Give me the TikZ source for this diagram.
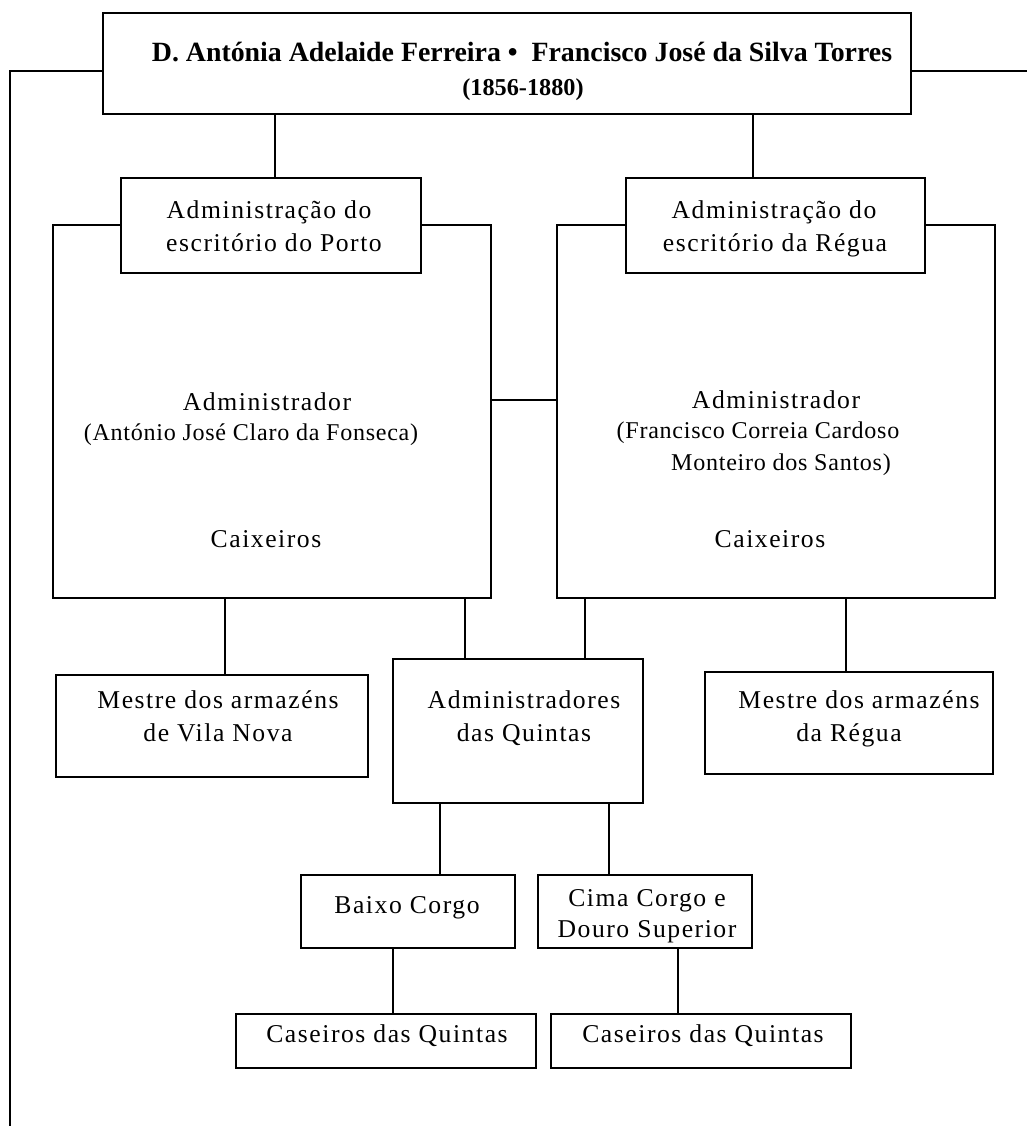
\documentclass[tikz,border=0pt]{standalone}
\usepackage{fontspec}
\setmainfont{Liberation Serif}
\newfontfamily\spacedserif[LetterSpace=6]{Liberation Serif}
\newfontfamily\lightspaced[LetterSpace=3]{Liberation Serif}
\usetikzlibrary{fit}
\begin{document}
\begin{tikzpicture}[x=0.02cm,y=-0.02cm,
  box/.style={draw, line width=1.6pt, fill=white, inner sep=0pt},
  link/.style={line width=1.6pt},
  txt/.style={anchor=base, inner sep=0pt, font=\spacedserif\fontsize{14.6pt}{18pt}\selectfont},
  sub/.style={anchor=base, inner sep=0pt, font=\lightspaced\fontsize{13.7pt}{17pt}\selectfont},
  ttl/.style={anchor=base, inner sep=0pt, font=\bfseries\fontsize{15.85pt}{18pt}\selectfont},
  dte/.style={anchor=base, inner sep=0pt, font=\bfseries\fontsize{13.8pt}{16pt}\selectfont}]
\useasboundingbox (0,0) rectangle (1027,1126);

% owners
\node[box, fit={(103,13) (911,114)}] (top) {};
\node[ttl] (ttlA) at (522,61) {D. Antónia Adelaide Ferreira •\ \ Francisco José da Silva Torres};
\node[dte] (ttlB) at (523,95) {(1856-1880)};

% offices: large frames first, heading boxes on top
\node[box, fit={(53,225) (491,598)}] (pbig) {};
\node[box, fit={(557,225) (995,598)}] (rbig) {};
\node[box, fit={(121,178) (421,273)}] (padm) {};
\node[box, fit={(626,178) (925,273)}] (radm) {};

\node[txt] (padmA) at (269,218) {Administração do};
\node[txt] (padmB) at (274,251) {escritório do Porto};
\node[txt] (radmA) at (774,218) {Administração do};
\node[txt] (radmB) at (775,251) {escritório da Régua};

\node[txt] (pAd) at (267,410) {Administrador};
\node[sub] (pAdN) at (251,440) {(António José Claro da Fonseca)};
\node[txt] (pCx) at (266,547) {Caixeiros};

\node[txt] (rAd) at (776,408) {Administrador};
\node[sub] (rAdN) at (758,438) {(Francisco Correia Cardoso};
\node[sub] (rAdM) at (781,470) {Monteiro dos Santos)};
\node[txt] (rCx) at (770,547) {Caixeiros};

% second level
\node[box, fit={(56,675) (368,777)}] (mvn) {};
\node[box, fit={(393,659) (643,803)}] (aq) {};
\node[box, fit={(705,672) (993,774)}] (mr) {};
\node[txt] (mvnA) at (218,708) {Mestre dos armazéns};
\node[txt] (mvnB) at (218,741) {de Vila Nova};
\node[txt] (aqA) at (524,708) {Administradores};
\node[txt] (aqB) at (524,741) {das Quintas};
\node[txt] (mrA) at (859,708) {Mestre dos armazéns};
\node[txt] (mrB) at (849,741) {da Régua};

% regions
\node[box, fit={(301,875) (515,948)}] (bc) {};
\node[box, fit={(538,875) (752,948)}] (cc) {};
\node[txt] (bcA) at (407,913) {Baixo Corgo};
\node[txt] (ccA) at (647,906) {Cima Corgo e};
\node[txt] (ccB) at (647,937) {Douro Superior};

% caretakers
\node[box, fit={(236,1014) (536,1068)}] (cas1) {};
\node[box, fit={(551,1014) (851,1068)}] (cas2) {};
\node[txt] (cas1A) at (387,1042) {Caseiros das Quintas};
\node[txt] (cas2A) at (703,1042) {Caseiros das Quintas};

% connectors
\coordinate (lfoot) at (10,1126);
\coordinate (rend) at (1027,71);
\draw[link] (top.west |- rend) -| (lfoot);
\draw[link] (top.east |- rend) -- (rend);
\draw[link] (top.south -| 275,0) -- (padm.north -| 275,0);
\draw[link] (top.south -| 753,0) -- (radm.north -| 753,0);
\draw[link] (pbig.east |- 0,400) -- (rbig.west |- 0,400);
\draw[link] (pbig.south -| 225,0) -- (mvn.north -| 225,0);
\draw[link] (pbig.south -| 465,0) -- (aq.north -| 465,0);
\draw[link] (rbig.south -| 585,0) -- (aq.north -| 585,0);
\draw[link] (rbig.south -| 846,0) -- (mr.north -| 846,0);
\draw[link] (aq.south -| 440,0) -- (bc.north -| 440,0);
\draw[link] (aq.south -| 609,0) -- (cc.north -| 609,0);
\draw[link] (bc.south -| 393,0) -- (cas1.north -| 393,0);
\draw[link] (cc.south -| 678,0) -- (cas2.north -| 678,0);
\end{tikzpicture}
\end{document}
